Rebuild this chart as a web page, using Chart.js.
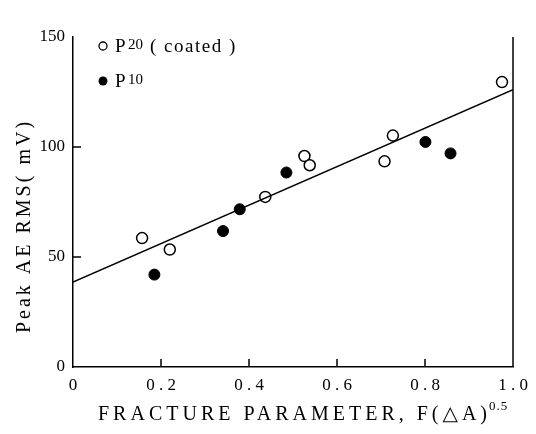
<!DOCTYPE html>
<html>
<head>
<meta charset="utf-8">
<script src="https://cdn.jsdelivr.net/npm/chart.js@4"></script>
<style>
  html, body { margin: 0; padding: 0; background: #fff; }
  #wrap { width: 536px; height: 434px; }
</style>
</head>
<body>
<div id="wrap"><canvas id="c" width="536" height="434"></canvas></div>
<script>
// P20 (coated) - open circles
const p20X = [0.157, 0.220, 0.437, 0.526, 0.538, 0.708, 0.727, 0.975];
const p20Y = [58.6, 53.4, 77.3, 95.9, 91.7, 93.5, 105.2, 129.5];
// P10 - filled circles
const p10X = [0.185, 0.341, 0.379, 0.485, 0.801, 0.858];
const p10Y = [42.0, 61.8, 71.7, 88.4, 102.3, 97.1];
// fitted line ends
const fitX = [0, 1.0];
const fitY = [38.6, 126.1];

const xTicks = [0, 0.2, 0.4, 0.6, 0.8, 1.0];
const yTicks = [0, 50, 100, 150];

const FONT = '"Liberation Serif", "DejaVu Serif", serif';

function pts(xs, ys) { return xs.map((x, i) => ({x: x, y: ys[i]})); }

// inward ticks, right border, titles and legend
const decor = {
  id: 'decor',
  afterDraw(chart) {
    const ctx = chart.ctx;
    const a = chart.chartArea;
    const xs = chart.scales.x, ys = chart.scales.y;
    ctx.save();
    ctx.strokeStyle = '#000';
    ctx.lineWidth = 1.5;
    // right border
    ctx.beginPath();
    ctx.moveTo(a.right, a.top);
    ctx.lineTo(a.right, a.bottom);
    ctx.stroke();
    // inward ticks
    ctx.beginPath();
    xTicks.slice(1, -1).forEach(v => {
      const px = xs.getPixelForValue(v);
      ctx.moveTo(px, a.bottom);
      ctx.lineTo(px, a.bottom - 8);
    });
    yTicks.slice(1, -1).forEach(v => {
      const py = ys.getPixelForValue(v);
      ctx.moveTo(a.left, py);
      ctx.lineTo(a.left + 8, py);
    });
    ctx.stroke();

    ctx.fillStyle = '#000';
    // x title
    ctx.font = '20px ' + FONT;
    ctx.letterSpacing = '4px';
    ctx.textBaseline = 'alphabetic';
    ctx.textAlign = 'left';
    const xt = 'FRACTURE PARAMETER, F(\u25B3A)';
    ctx.fillText(xt, 98, 420);
    const w = ctx.measureText(xt).width;
    ctx.font = '13px ' + FONT;
    ctx.letterSpacing = '1px';
    ctx.fillText('0.5', 98 + w - 2, 410);

    // y title
    ctx.save();
    ctx.translate(30, 226);
    ctx.rotate(-Math.PI / 2);
    ctx.font = '20px ' + FONT;
    ctx.letterSpacing = '3px';
    ctx.textAlign = 'center';
    ctx.fillText('Peak AE RMS( mV)', 0, 0);
    ctx.restore();

    // legend
    ctx.letterSpacing = '0px';
    ctx.lineWidth = 1.3;
    ctx.beginPath();
    ctx.arc(103, 46, 4, 0, Math.PI * 2);
    ctx.fillStyle = '#fff';
    ctx.fill();
    ctx.stroke();
    ctx.beginPath();
    ctx.arc(103, 81, 4.5, 0, Math.PI * 2);
    ctx.fillStyle = '#000';
    ctx.fill();
    ctx.font = '19px ' + FONT;
    ctx.textAlign = 'left';
    ctx.textBaseline = 'middle';
    ctx.fillText('P', 115, 47);
    ctx.font = '15px ' + FONT;
    ctx.fillText('20', 128, 45);
    ctx.font = '19px ' + FONT;
    ctx.letterSpacing = '1.5px';
    ctx.fillText('( coated )', 150, 47);
    ctx.letterSpacing = '0px';
    ctx.fillText('P', 115, 82);
    ctx.font = '15px ' + FONT;
    ctx.fillText('10', 128, 80);
    ctx.restore();
  }
};

new Chart(document.getElementById('c'), {
  type: 'scatter',
  data: {
    datasets: [
      {
        type: 'line',
        data: pts(fitX, fitY),
        borderColor: '#000',
        borderWidth: 1.5,
        pointRadius: 0,
        fill: false
      },
      {
        data: pts(p20X, p20Y),
        pointRadius: 5.5,
        pointBackgroundColor: '#fff',
        pointBorderColor: '#000',
        pointBorderWidth: 1.5
      },
      {
        data: pts(p10X, p10Y),
        pointRadius: 5.5,
        pointBackgroundColor: '#000',
        pointBorderColor: '#000',
        pointBorderWidth: 1
      }
    ]
  },
  options: {
    responsive: false,
    animation: false,
    events: [],
    layout: { padding: { left: 0, right: 23, top: 37, bottom: 0 } },
    plugins: { legend: { display: false }, tooltip: { enabled: false } },
    scales: {
      x: {
        type: 'linear',
        min: 0, max: 1.0,
        afterBuildTicks(s) { s.ticks = xTicks.map(v => ({value: v})); },
        afterFit(s) { s.height = 67; },
        grid: { drawOnChartArea: false, drawTicks: false },
        border: { color: '#000', width: 1.5 },
        ticks: {
          color: '#000',
          padding: 8,
          font: { family: FONT, size: 17 },
          callback: v => (v === 0 ? '0' : v.toFixed(1)).split('').join(' ')
        }
      },
      y: {
        type: 'linear',
        min: 0, max: 150,
        afterBuildTicks(s) { s.ticks = yTicks.map(v => ({value: v})); },
        afterFit(s) { s.width = 73; },
        grid: { drawOnChartArea: false, drawTicks: false },
        border: { color: '#000', width: 1.5 },
        ticks: {
          color: '#000',
          padding: 8,
          font: { family: FONT, size: 17 }
        }
      }
    }
  },
  plugins: [decor]
});
</script>
</body>
</html>
